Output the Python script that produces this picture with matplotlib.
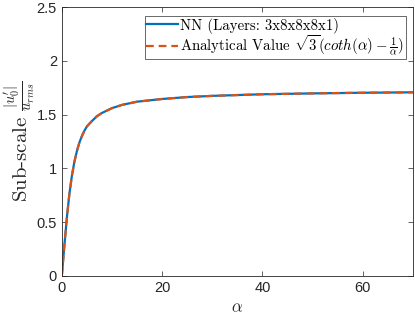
import numpy as np
import matplotlib
matplotlib.use("Agg")
import matplotlib.pyplot as plt

# values
alpha = [0, 0.5, 1, 1.5, 2, 2.5, 3, 3.5, 4, 4.5, 5, 6, 7, 8, 10, 12, 15,
         20, 25, 30, 40, 50, 60, 70]
nn_vals = [0.0, 0.28, 0.54, 0.76, 0.93, 1.06, 1.16, 1.24, 1.30, 1.35, 1.39,
           1.44, 1.485, 1.515, 1.56, 1.59, 1.62, 1.645, 1.663, 1.674, 1.689,
           1.697, 1.703, 1.707]
analytic_vals = [0.0, 0.28, 0.54, 0.76, 0.93, 1.06, 1.16, 1.24, 1.30, 1.35,
                 1.39, 1.44, 1.485, 1.515, 1.56, 1.59, 1.62, 1.645, 1.663,
                 1.674, 1.689, 1.697, 1.703, 1.707]

xticks = [0, 20, 40, 60]
yticks = [0, 0.5, 1, 1.5, 2, 2.5]
ytick_labels = ['0', '0.5', '1', '1.5', '2', '2.5']

plt.rcParams['mathtext.fontset'] = 'cm'
plt.rcParams['font.family'] = ['Liberation Sans', 'DejaVu Sans']
plt.rcParams['axes.unicode_minus'] = False

axc = '#262626'
fig = plt.figure(figsize=(4.15, 3.19), dpi=100)
ax = fig.add_axes([0.149, 0.135, 0.846, 0.843])

ax.plot(alpha, nn_vals, color='#0072BD', lw=1.6,
        label='NN (Layers: 3x8x8x8x1)')
ax.plot(alpha, analytic_vals, color='#D95319', lw=1.6, ls=(0, (3.5, 2.2)),
        label=r'Analytical Value $\sqrt{3}(coth(\alpha)-\frac{1}{\alpha})$')

ax.set_xlim(0, 70)
ax.set_ylim(0, 2.5)
ax.set_xticks(xticks)
ax.set_yticks(yticks)
ax.set_yticklabels(ytick_labels)
ax.tick_params(direction='in', length=3.5, width=0.5, colors=axc,
               labelsize=10.5, top=True, right=True)
for s in ax.spines.values():
    s.set_color(axc)
    s.set_linewidth(0.6)

ax.set_xlabel(r'$\alpha$', fontsize=12, color=axc)
ax.set_ylabel(r'Sub-scale $\frac{|u_0^{\prime}|}{u_{rms}}$', family='cmr10',
              fontsize=15, color=axc, labelpad=0)

leg = ax.legend(loc='upper right', frameon=True, fancybox=False,
                prop={'family': 'cmr10', 'size': 10.7},
                handlelength=2.1, handletextpad=0.2, borderpad=0.1,
                labelspacing=0.0, borderaxespad=0.0,
                bbox_to_anchor=(0.98, 0.966))
leg.get_frame().set_edgecolor(axc)
leg.get_frame().set_linewidth(0.6)

fig.savefig('out.png', dpi=100)
